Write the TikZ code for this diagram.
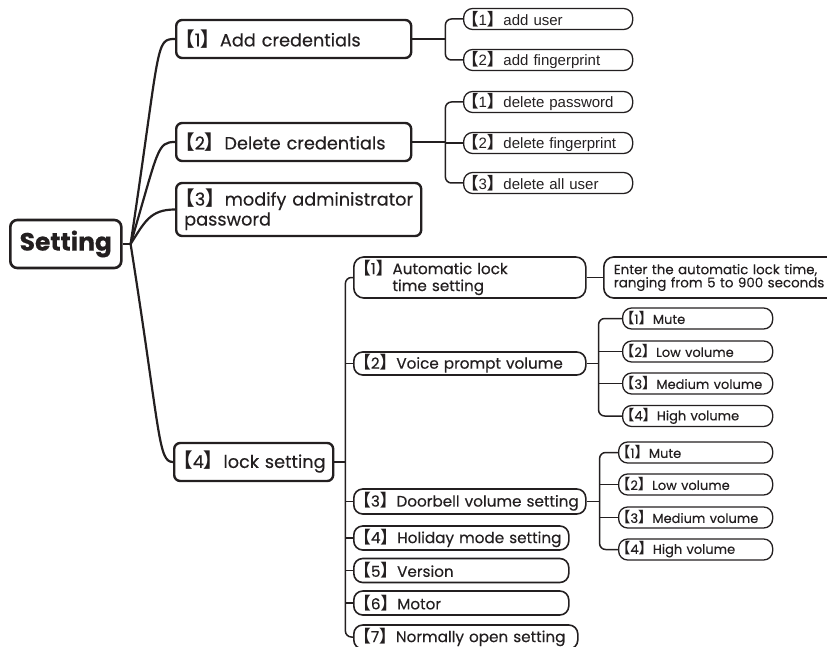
\documentclass[tikz,border=0pt]{standalone}
\usepackage{fontspec}
\setmainfont{Poppins}[FakeBold=0.35]
\newfontfamily\cjk{Noto Sans CJK SC}[Scale=1.1]
\newfontfamily\arialf{Liberation Sans}
\usetikzlibrary{calc}
\definecolor{ink}{HTML}{231F20}
\newcommand\mk[1]{\hspace*{-0.5em}{\cjk\bfseries 【}#1{\cjk\bfseries 】}}
\begin{document}
\begin{tikzpicture}[x=1pt,y=-1pt,
  box/.style={draw=ink, text=ink, anchor=west, align=left, inner ysep=0pt, execute at begin node={\hyphenpenalty=10000\relax}},
  root/.style={draw=ink, text=ink, line width=2.6pt, rounded corners=7pt, font=\fontsize{25}{28}\selectfont\bfseries, minimum width=111pt, minimum height=48pt, anchor=west, inner sep=0pt},
  lone/.style={box, line width=2.4pt, rounded corners=6pt, font=\fontsize{17.7}{20}\selectfont, inner xsep=8pt},
  ltwo/.style={box, line width=1.6pt, rounded corners=9pt, font=\fontsize{15.2}{12}\selectfont, inner xsep=8pt},
  lthree/.style={box, line width=1.3pt, rounded corners=9pt, font=\fontsize{13}{15}\selectfont, inner xsep=4pt, minimum height=21pt},
  lar/.style={box, line width=1.3pt, rounded corners=9pt, font=\arialf\fontsize{15}{16}\selectfont, inner xsep=6pt, minimum height=21pt, text width=157pt},
  conn/.style={draw=ink, line width=1.5pt},
  connA/.style={draw=ink, line width=2.2pt}]
\useasboundingbox (0,0) rectangle (827,647);
\clip (0,0) rectangle (827,647);
% root
\node[root] (set) at (9,244) {Setting};
% level 1
\node[lone, text width=219pt, minimum height=38pt] (a1) at (175,39) {\mbox{\mk{1}Add credentials}};
\node[lone, text width=219pt, minimum height=38pt] (a2) at (175,142) {\mbox{\mk{2}Delete credentials}};
\node[lone, text width=229pt, minimum height=53pt] (a3) at (175,209.5) {\mk{3}modify administrator\\password};
\node[lone, text width=143pt, minimum height=38pt] (a4) at (173,462) {\mbox{\mk{4}lock setting}};
% add credentials children
\node[lar] (b1) at (463,19) {\mbox{\mk{1}add user}};
\node[lar] (b2) at (463,60) {\mbox{\mk{2}add fingerprint}};
% delete credentials children
\node[lar] (c1) at (463,102) {\mbox{\mk{1}delete password}};
\node[lar] (c2) at (463,143) {\mbox{\mk{2}delete fingerprint}};
\node[lar] (c3) at (463,183) {\mbox{\mk{3}delete all user}};
% lock setting children
\node[ltwo, text width=216pt, minimum height=41pt, rounded corners=10pt] (d1) at (353,277.5) {\mk{1}Automatic lock\\\phantom{\mk{1}}time setting};
\node[ltwo, text width=240pt, minimum height=41pt, rounded corners=10pt, inner xsep=10pt, font=\fontsize{13.4}{12}\selectfont] (e1) at (603,277.5) {Enter the automatic lock time,\\ranging from 5 to 900 seconds};
\node[ltwo, text width=216pt, minimum height=23pt] (d2) at (353,363.5) {\mbox{\mk{2}Voice prompt volume}};
\node[ltwo, text width=216pt, minimum height=25pt] (d3) at (353,501.5) {\mbox{\mk{3}Doorbell volume setting}};
\node[ltwo, text width=199pt, minimum height=24pt] (d4) at (353,538) {\mbox{\mk{4}Holiday mode setting}};
\node[ltwo, text width=199pt, minimum height=24pt] (d5) at (353,570.5) {\mbox{\mk{5}Version}};
\node[ltwo, text width=199pt, minimum height=24pt] (d6) at (353,603) {\mbox{\mk{6}Motor}};
\node[ltwo, text width=208pt, minimum height=24pt] (d7) at (353,637) {\mbox{\mk{7}Normally open setting}};
% voice children
\node[lthree, text width=142pt] (v1) at (622,318.5) {\mbox{\mk{1}Mute}};
\node[lthree, text width=142pt] (v2) at (622,351.5) {\mbox{\mk{2}Low volume}};
\node[lthree, text width=142pt] (v3) at (622,383.5) {\mbox{\mk{3}Medium volume}};
\node[lthree, text width=142pt] (v4) at (622,416) {\mbox{\mk{4}High volume}};
% doorbell children
\node[lthree, text width=146pt] (w1) at (618,452.5) {\mbox{\mk{1}Mute}};
\node[lthree, text width=146pt] (w2) at (618,484.5) {\mbox{\mk{2}Low volume}};
\node[lthree, text width=146pt] (w3) at (618,517.5) {\mbox{\mk{3}Medium volume}};
\node[lthree, text width=146pt] (w4) at (618,549.5) {\mbox{\mk{4}High volume}};
% root connectors
\coordinate (hub) at ($(set.east)+(8,0)$);
\draw[connA] (set.east) -- (hub);
\draw[connA] (hub) .. controls +(30,-200) and +(-20,0) .. (a1.west);
\draw[connA] (hub) .. controls +(28,-95) and +(-18,0) .. (a2.west);
\draw[connA] (hub) .. controls +(14,-22) and +(-25,0) .. (a3.west);
\draw[connA] (hub) .. controls +(30,190) and +(-15,0) .. (a4.west);
% add credentials bracket
\coordinate (jb) at ($(a1.east)+(33,0)$);
\draw[conn] (a1.east) -- (jb);
\draw[conn, rounded corners=6pt] (b1.west) -| (jb) |- (b2.west);
% delete credentials bracket
\coordinate (jc) at ($(a2.east)+(33,0)$);
\draw[conn] (a2.east) -- (jc);
\draw[conn, rounded corners=6pt] (c1.west) -| (jc) |- (c3.west);
\draw[conn] (jc|-c2.west) -- (c2.west);
% lock setting spine
\coordinate (jd) at ($(a4.east)+(11,0)$);
\draw[conn] (a4.east) -- (jd);
\draw[conn, rounded corners=6pt] (d1.west) -| (jd) |- (d7.west);
\foreach \n in {d2,d3,d4,d5,d6} \draw[conn] (jd|-\n.west) -- (\n.west);
\draw[conn] (d1.east) -- (e1.west);
% voice bracket
\coordinate (jv) at ($(d2.east)+(12,0)$);
\draw[conn] (d2.east) -- (jv);
\draw[conn, rounded corners=6pt] (v1.west) -| (jv) |- (v4.west);
\foreach \n in {v2,v3} \draw[conn] (jv|-\n.west) -- (\n.west);
% doorbell bracket
\coordinate (jw) at ($(d3.east)+(13,0)$);
\draw[conn] (d3.east) -- (jw);
\draw[conn, rounded corners=6pt] (w1.west) -| (jw) |- (w4.west);
\foreach \n in {w2,w3} \draw[conn] (jw|-\n.west) -- (\n.west);
\end{tikzpicture}
\end{document}
